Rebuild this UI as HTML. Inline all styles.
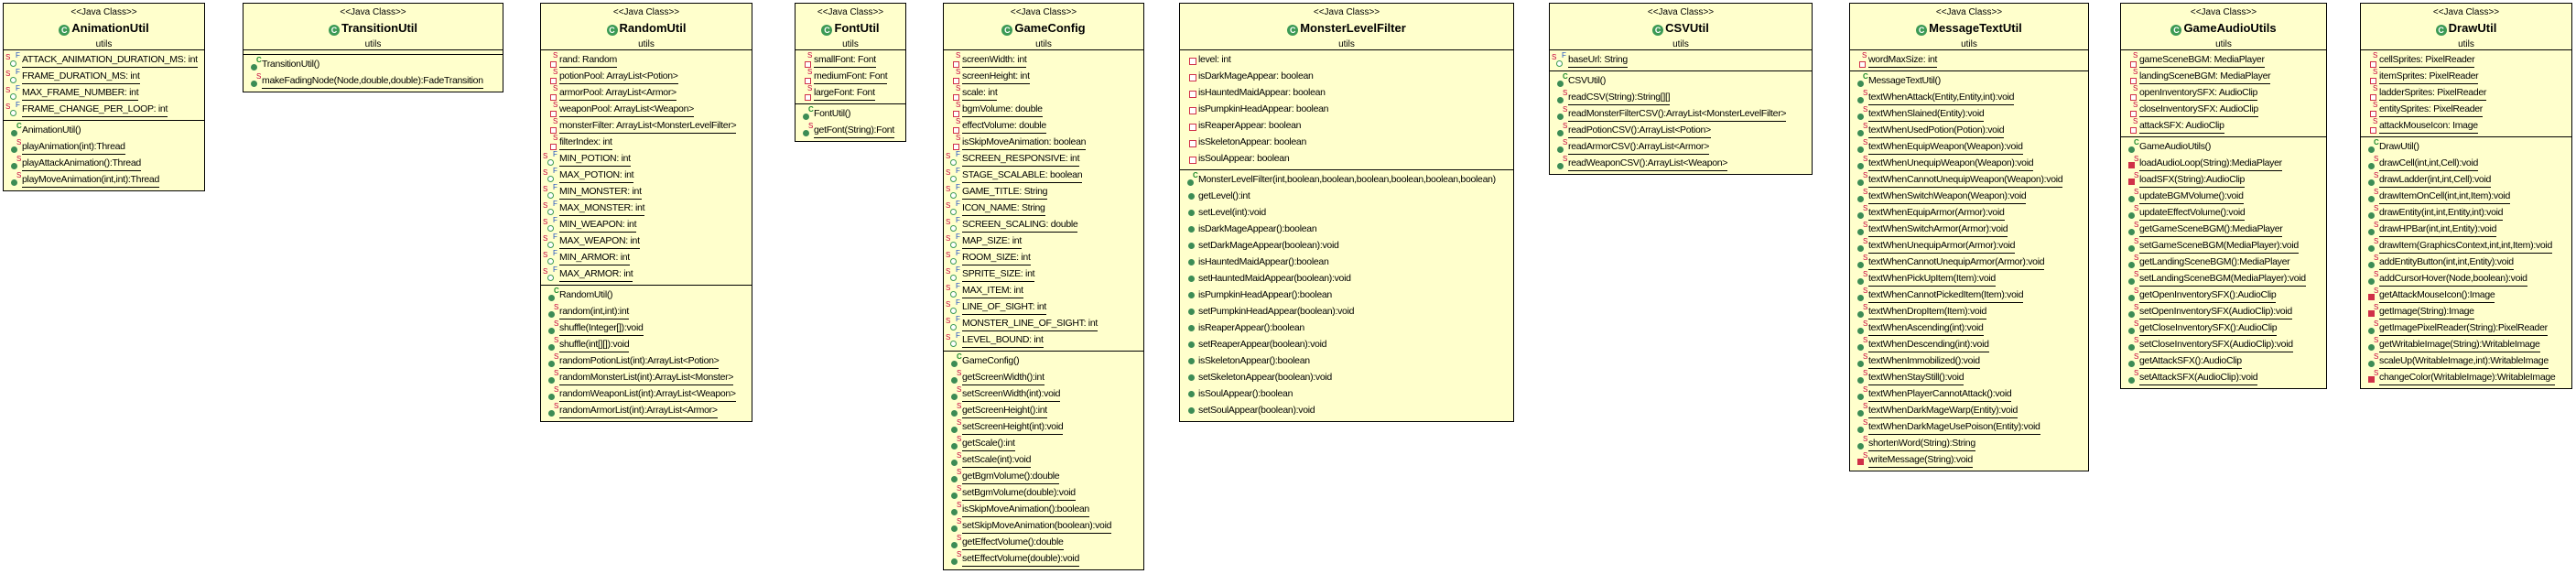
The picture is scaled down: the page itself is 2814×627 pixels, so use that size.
<!DOCTYPE html>
<html><head><meta charset="utf-8"><style>
*{margin:0;padding:0;box-sizing:border-box}
body{width:2814px;height:627px;background:#fff;position:relative;overflow:hidden;font-family:"Liberation Sans",Arial,sans-serif}
.b{position:absolute;top:3px;background:#ffffcc;border:1px solid #000;overflow:hidden}
.h{height:51px;border-bottom:1px solid #000;text-align:center;position:relative}
.h .st{position:absolute;left:0;right:0;top:4px;font-size:10px;line-height:12px;color:#000}
.h .nm{position:absolute;left:0;right:0;top:19px;font-size:13px;line-height:16px;font-weight:bold;color:#000}
.h .nm:before{content:"C";display:inline-block;width:12px;height:12px;border-radius:50%;background:#3c9a55;color:#fff;font-size:9px;line-height:12px;text-align:center;margin-right:2px;vertical-align:-1px}
.h .pk{position:absolute;left:0;right:0;top:39px;font-size:10px;line-height:12px}
.s{padding:2px 0;border-bottom:1px solid #000}
.s:last-child{border-bottom:none}
.e{height:5px;border-bottom:1px solid #000}
.r{position:relative;height:18px;padding-left:20px;font-size:10.5px;line-height:16px;white-space:nowrap;letter-spacing:-0.3px;color:#000}
.r u{text-decoration:none;border-bottom:1px solid #000;display:inline-block;line-height:16px}
.r:before,.r:after,.r i{position:absolute;content:"";font-style:normal}
.fs:before{left:10px;top:10px;width:5px;height:5px;border:1.5px solid #d0304a;background:#fff}
.fs:after{content:"S";left:13px;top:-1px;font-size:8px;line-height:9px;color:#c8003c}
.sf:before{left:7px;top:9px;width:5px;height:5px;border:1.5px solid #3c9a55;border-radius:50%;background:#fff}
.sf:after{content:"S";left:2px;top:1px;font-size:8px;line-height:9px;color:#c8003c}
.sf i{left:13px;top:-1px;font-size:8px;line-height:9px;color:#2050c0}
.pf:before{left:10px;top:6px;width:6px;height:6px;border:1.5px solid #d0304a;background:#fff}
.ms:before{left:8px;top:8px;width:7px;height:7px;border-radius:50%;background:#3c8c55}
.ms:after{content:"S";left:14px;top:-1px;font-size:8px;line-height:9px;color:#c8003c}
.mc:before{left:8px;top:8px;width:7px;height:7px;border-radius:50%;background:#3c8c55}
.mc:after{content:"C";left:14px;top:-1px;font-size:8px;line-height:9px;color:#1c8a2c;font-weight:bold}
.m:before{left:9px;top:5px;width:7px;height:7px;border-radius:50%;background:#3c8c55}
.ps:before{left:8px;top:7px;width:7px;height:7px;background:#d03048}
.ps:after{content:"S";left:14px;top:-1px;font-size:8px;line-height:9px;color:#c8003c}
.pl u{border-bottom:none}
</style></head><body>

<div class="b" style="left:3px;width:221px">
<div class="h"><div class="st">&lt;&lt;Java Class&gt;&gt;</div><div class="nm">AnimationUtil</div><div class="pk">utils</div></div>
<div class="s">
<div class="r sf"><i>F</i><u>ATTACK_ANIMATION_DURATION_MS: int</u></div>
<div class="r sf"><i>F</i><u>FRAME_DURATION_MS: int</u></div>
<div class="r sf"><i>F</i><u>MAX_FRAME_NUMBER: int</u></div>
<div class="r sf"><i>F</i><u>FRAME_CHANGE_PER_LOOP: int</u></div>
</div>
<div class="s">
<div class="r mc pl"><u>AnimationUtil()</u></div>
<div class="r ms"><u>playAnimation(int):Thread</u></div>
<div class="r ms"><u>playAttackAnimation():Thread</u></div>
<div class="r ms"><u>playMoveAnimation(int,int):Thread</u></div>
</div></div>

<div class="b" style="left:265px;width:285px">
<div class="h"><div class="st">&lt;&lt;Java Class&gt;&gt;</div><div class="nm">TransitionUtil</div><div class="pk">utils</div></div>
<div class="e"></div>
<div class="s">
<div class="r mc pl"><u>TransitionUtil()</u></div>
<div class="r ms"><u>makeFadingNode(Node,double,double):FadeTransition</u></div>
</div></div>

<div class="b" style="left:590px;width:232px">
<div class="h"><div class="st">&lt;&lt;Java Class&gt;&gt;</div><div class="nm">RandomUtil</div><div class="pk">utils</div></div>
<div class="s">
<div class="r fs"><u>rand: Random</u></div>
<div class="r fs"><u>potionPool: ArrayList&lt;Potion&gt;</u></div>
<div class="r fs"><u>armorPool: ArrayList&lt;Armor&gt;</u></div>
<div class="r fs"><u>weaponPool: ArrayList&lt;Weapon&gt;</u></div>
<div class="r fs"><u>monsterFilter: ArrayList&lt;MonsterLevelFilter&gt;</u></div>
<div class="r fs"><u>filterIndex: int</u></div>
<div class="r sf"><i>F</i><u>MIN_POTION: int</u></div>
<div class="r sf"><i>F</i><u>MAX_POTION: int</u></div>
<div class="r sf"><i>F</i><u>MIN_MONSTER: int</u></div>
<div class="r sf"><i>F</i><u>MAX_MONSTER: int</u></div>
<div class="r sf"><i>F</i><u>MIN_WEAPON: int</u></div>
<div class="r sf"><i>F</i><u>MAX_WEAPON: int</u></div>
<div class="r sf"><i>F</i><u>MIN_ARMOR: int</u></div>
<div class="r sf"><i>F</i><u>MAX_ARMOR: int</u></div>
</div>
<div class="s">
<div class="r mc pl"><u>RandomUtil()</u></div>
<div class="r ms"><u>random(int,int):int</u></div>
<div class="r ms"><u>shuffle(Integer[]):void</u></div>
<div class="r ms"><u>shuffle(int[][]):void</u></div>
<div class="r ms"><u>randomPotionList(int):ArrayList&lt;Potion&gt;</u></div>
<div class="r ms"><u>randomMonsterList(int):ArrayList&lt;Monster&gt;</u></div>
<div class="r ms"><u>randomWeaponList(int):ArrayList&lt;Weapon&gt;</u></div>
<div class="r ms"><u>randomArmorList(int):ArrayList&lt;Armor&gt;</u></div>
</div></div>

<div class="b" style="left:868px;width:122px">
<div class="h"><div class="st">&lt;&lt;Java Class&gt;&gt;</div><div class="nm">FontUtil</div><div class="pk">utils</div></div>
<div class="s">
<div class="r fs"><u>smallFont: Font</u></div>
<div class="r fs"><u>mediumFont: Font</u></div>
<div class="r fs"><u>largeFont: Font</u></div>
</div>
<div class="s">
<div class="r mc pl"><u>FontUtil()</u></div>
<div class="r ms"><u>getFont(String):Font</u></div>
</div></div>

<div class="b" style="left:1030px;width:220px">
<div class="h"><div class="st">&lt;&lt;Java Class&gt;&gt;</div><div class="nm">GameConfig</div><div class="pk">utils</div></div>
<div class="s">
<div class="r fs"><u>screenWidth: int</u></div>
<div class="r fs"><u>screenHeight: int</u></div>
<div class="r fs"><u>scale: int</u></div>
<div class="r fs"><u>bgmVolume: double</u></div>
<div class="r fs"><u>effectVolume: double</u></div>
<div class="r fs"><u>isSkipMoveAnimation: boolean</u></div>
<div class="r sf"><i>F</i><u>SCREEN_RESPONSIVE: int</u></div>
<div class="r sf"><i>F</i><u>STAGE_SCALABLE: boolean</u></div>
<div class="r sf"><i>F</i><u>GAME_TITLE: String</u></div>
<div class="r sf"><i>F</i><u>ICON_NAME: String</u></div>
<div class="r sf"><i>F</i><u>SCREEN_SCALING: double</u></div>
<div class="r sf"><i>F</i><u>MAP_SIZE: int</u></div>
<div class="r sf"><i>F</i><u>ROOM_SIZE: int</u></div>
<div class="r sf"><i>F</i><u>SPRITE_SIZE: int</u></div>
<div class="r sf"><i>F</i><u>MAX_ITEM: int</u></div>
<div class="r sf"><i>F</i><u>LINE_OF_SIGHT: int</u></div>
<div class="r sf"><i>F</i><u>MONSTER_LINE_OF_SIGHT: int</u></div>
<div class="r sf"><i>F</i><u>LEVEL_BOUND: int</u></div>
</div>
<div class="s">
<div class="r mc pl"><u>GameConfig()</u></div>
<div class="r ms"><u>getScreenWidth():int</u></div>
<div class="r ms"><u>setScreenWidth(int):void</u></div>
<div class="r ms"><u>getScreenHeight():int</u></div>
<div class="r ms"><u>setScreenHeight(int):void</u></div>
<div class="r ms"><u>getScale():int</u></div>
<div class="r ms"><u>setScale(int):void</u></div>
<div class="r ms"><u>getBgmVolume():double</u></div>
<div class="r ms"><u>setBgmVolume(double):void</u></div>
<div class="r ms"><u>isSkipMoveAnimation():boolean</u></div>
<div class="r ms"><u>setSkipMoveAnimation(boolean):void</u></div>
<div class="r ms"><u>getEffectVolume():double</u></div>
<div class="r ms"><u>setEffectVolume(double):void</u></div>
</div></div>

<div class="b" style="left:1288px;width:366px">
<div class="h"><div class="st">&lt;&lt;Java Class&gt;&gt;</div><div class="nm">MonsterLevelFilter</div><div class="pk">utils</div></div>
<div class="s">
<div class="r pf pl"><u>level: int</u></div>
<div class="r pf pl"><u>isDarkMageAppear: boolean</u></div>
<div class="r pf pl"><u>isHauntedMaidAppear: boolean</u></div>
<div class="r pf pl"><u>isPumpkinHeadAppear: boolean</u></div>
<div class="r pf pl"><u>isReaperAppear: boolean</u></div>
<div class="r pf pl"><u>isSkeletonAppear: boolean</u></div>
<div class="r pf pl"><u>isSoulAppear: boolean</u></div>
</div>
<div class="s">
<div class="r mc pl"><u>MonsterLevelFilter(int,boolean,boolean,boolean,boolean,boolean,boolean)</u></div>
<div class="r m pl"><u>getLevel():int</u></div>
<div class="r m pl"><u>setLevel(int):void</u></div>
<div class="r m pl"><u>isDarkMageAppear():boolean</u></div>
<div class="r m pl"><u>setDarkMageAppear(boolean):void</u></div>
<div class="r m pl"><u>isHauntedMaidAppear():boolean</u></div>
<div class="r m pl"><u>setHauntedMaidAppear(boolean):void</u></div>
<div class="r m pl"><u>isPumpkinHeadAppear():boolean</u></div>
<div class="r m pl"><u>setPumpkinHeadAppear(boolean):void</u></div>
<div class="r m pl"><u>isReaperAppear():boolean</u></div>
<div class="r m pl"><u>setReaperAppear(boolean):void</u></div>
<div class="r m pl"><u>isSkeletonAppear():boolean</u></div>
<div class="r m pl"><u>setSkeletonAppear(boolean):void</u></div>
<div class="r m pl"><u>isSoulAppear():boolean</u></div>
<div class="r m pl"><u>setSoulAppear(boolean):void</u></div>
</div></div>

<div class="b" style="left:1692px;width:288px">
<div class="h"><div class="st">&lt;&lt;Java Class&gt;&gt;</div><div class="nm">CSVUtil</div><div class="pk">utils</div></div>
<div class="s">
<div class="r sf"><i>F</i><u>baseUrl: String</u></div>
</div>
<div class="s">
<div class="r mc pl"><u>CSVUtil()</u></div>
<div class="r ms"><u>readCSV(String):String[][]</u></div>
<div class="r ms"><u>readMonsterFilterCSV():ArrayList&lt;MonsterLevelFilter&gt;</u></div>
<div class="r ms"><u>readPotionCSV():ArrayList&lt;Potion&gt;</u></div>
<div class="r ms"><u>readArmorCSV():ArrayList&lt;Armor&gt;</u></div>
<div class="r ms"><u>readWeaponCSV():ArrayList&lt;Weapon&gt;</u></div>
</div></div>

<div class="b" style="left:2020px;width:262px">
<div class="h"><div class="st">&lt;&lt;Java Class&gt;&gt;</div><div class="nm">MessageTextUtil</div><div class="pk">utils</div></div>
<div class="s">
<div class="r fs"><u>wordMaxSize: int</u></div>
</div>
<div class="s">
<div class="r mc pl"><u>MessageTextUtil()</u></div>
<div class="r ms"><u>textWhenAttack(Entity,Entity,int):void</u></div>
<div class="r ms"><u>textWhenSlained(Entity):void</u></div>
<div class="r ms"><u>textWhenUsedPotion(Potion):void</u></div>
<div class="r ms"><u>textWhenEquipWeapon(Weapon):void</u></div>
<div class="r ms"><u>textWhenUnequipWeapon(Weapon):void</u></div>
<div class="r ms"><u>textWhenCannotUnequipWeapon(Weapon):void</u></div>
<div class="r ms"><u>textWhenSwitchWeapon(Weapon):void</u></div>
<div class="r ms"><u>textWhenEquipArmor(Armor):void</u></div>
<div class="r ms"><u>textWhenSwitchArmor(Armor):void</u></div>
<div class="r ms"><u>textWhenUnequipArmor(Armor):void</u></div>
<div class="r ms"><u>textWhenCannotUnequipArmor(Armor):void</u></div>
<div class="r ms"><u>textWhenPickUpItem(Item):void</u></div>
<div class="r ms"><u>textWhenCannotPickedItem(Item):void</u></div>
<div class="r ms"><u>textWhenDropItem(Item):void</u></div>
<div class="r ms"><u>textWhenAscending(int):void</u></div>
<div class="r ms"><u>textWhenDescending(int):void</u></div>
<div class="r ms"><u>textWhenImmobilized():void</u></div>
<div class="r ms"><u>textWhenStayStill():void</u></div>
<div class="r ms"><u>textWhenPlayerCannotAttack():void</u></div>
<div class="r ms"><u>textWhenDarkMageWarp(Entity):void</u></div>
<div class="r ms"><u>textWhenDarkMageUsePoison(Entity):void</u></div>
<div class="r ms"><u>shortenWord(String):String</u></div>
<div class="r ps"><u>writeMessage(String):void</u></div>
</div></div>

<div class="b" style="left:2316px;width:226px">
<div class="h"><div class="st">&lt;&lt;Java Class&gt;&gt;</div><div class="nm">GameAudioUtils</div><div class="pk">utils</div></div>
<div class="s">
<div class="r fs"><u>gameSceneBGM: MediaPlayer</u></div>
<div class="r fs"><u>landingSceneBGM: MediaPlayer</u></div>
<div class="r fs"><u>openInventorySFX: AudioClip</u></div>
<div class="r fs"><u>closeInventorySFX: AudioClip</u></div>
<div class="r fs"><u>attackSFX: AudioClip</u></div>
</div>
<div class="s">
<div class="r mc pl"><u>GameAudioUtils()</u></div>
<div class="r ps"><u>loadAudioLoop(String):MediaPlayer</u></div>
<div class="r ps"><u>loadSFX(String):AudioClip</u></div>
<div class="r ms"><u>updateBGMVolume():void</u></div>
<div class="r ms"><u>updateEffectVolume():void</u></div>
<div class="r ms"><u>getGameSceneBGM():MediaPlayer</u></div>
<div class="r ms"><u>setGameSceneBGM(MediaPlayer):void</u></div>
<div class="r ms"><u>getLandingSceneBGM():MediaPlayer</u></div>
<div class="r ms"><u>setLandingSceneBGM(MediaPlayer):void</u></div>
<div class="r ms"><u>getOpenInventorySFX():AudioClip</u></div>
<div class="r ms"><u>setOpenInventorySFX(AudioClip):void</u></div>
<div class="r ms"><u>getCloseInventorySFX():AudioClip</u></div>
<div class="r ms"><u>setCloseInventorySFX(AudioClip):void</u></div>
<div class="r ms"><u>getAttackSFX():AudioClip</u></div>
<div class="r ms"><u>setAttackSFX(AudioClip):void</u></div>
</div></div>

<div class="b" style="left:2578px;width:232px">
<div class="h"><div class="st">&lt;&lt;Java Class&gt;&gt;</div><div class="nm">DrawUtil</div><div class="pk">utils</div></div>
<div class="s">
<div class="r fs"><u>cellSprites: PixelReader</u></div>
<div class="r fs"><u>itemSprites: PixelReader</u></div>
<div class="r fs"><u>ladderSprites: PixelReader</u></div>
<div class="r fs"><u>entitySprites: PixelReader</u></div>
<div class="r fs"><u>attackMouseIcon: Image</u></div>
</div>
<div class="s">
<div class="r mc pl"><u>DrawUtil()</u></div>
<div class="r ms"><u>drawCell(int,int,Cell):void</u></div>
<div class="r ms"><u>drawLadder(int,int,Cell):void</u></div>
<div class="r ms"><u>drawItemOnCell(int,int,Item):void</u></div>
<div class="r ms"><u>drawEntity(int,int,Entity,int):void</u></div>
<div class="r ms"><u>drawHPBar(int,int,Entity):void</u></div>
<div class="r ms"><u>drawItem(GraphicsContext,int,int,Item):void</u></div>
<div class="r ms"><u>addEntityButton(int,int,Entity):void</u></div>
<div class="r ms"><u>addCursorHover(Node,boolean):void</u></div>
<div class="r ps"><u>getAttackMouseIcon():Image</u></div>
<div class="r ps"><u>getImage(String):Image</u></div>
<div class="r ms"><u>getImagePixelReader(String):PixelReader</u></div>
<div class="r ms"><u>getWritableImage(String):WritableImage</u></div>
<div class="r ms"><u>scaleUp(WritableImage,int):WritableImage</u></div>
<div class="r ps"><u>changeColor(WritableImage):WritableImage</u></div>
</div></div>

</body></html>
